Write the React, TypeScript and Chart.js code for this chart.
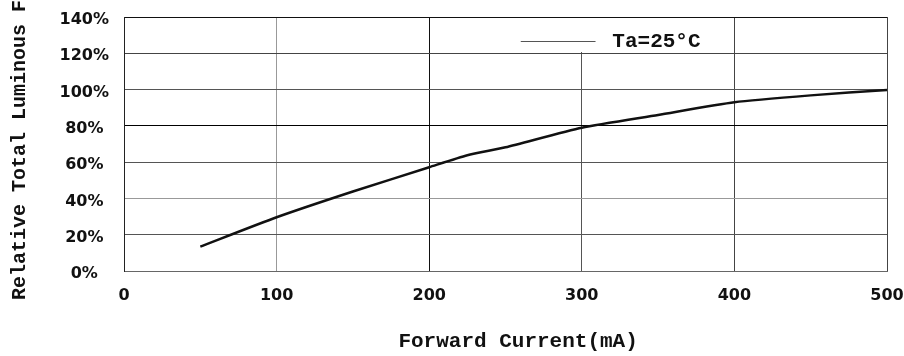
import React, { useEffect, useRef } from "react";
import { Chart, registerables } from "chart.js";

Chart.register(...registerables);

// ---- data ----
const currents = [50, 100, 150, 200, 225, 250, 300, 350, 400, 450, 500];
const flux = [13.4, 29.6, 43.8, 57.2, 63.8, 68.2, 79.0, 86.0, 93.0, 96.8, 99.8];
const xTickValues = [0, 100, 200, 300, 400, 500];
const yTickValues = [0, 20, 40, 60, 80, 100, 120, 140];
const seriesLabel = "Ta=25°C";
const xTitle = "  Forward Current(mA)";
const yTitle = "  Relative Total Luminous Flux";

// grid line shades (per tick)
const xGridColors = ["#222", "#999", "#111", "#555", "#444", "#444"];
const yGridColors = ["#666", "#555", "#999", "#555", "#000", "#555", "#444", "#111"];

const monoFont = "'Liberation Mono', 'Courier New', monospace";
const tickFont = "'DejaVu Sans', sans-serif";

const inlineLegend = {
  id: "inlineLegend",
  beforeDatasetsDraw(chart: any, _args: any, opts: any) {
    const { ctx, scales } = chart;
    const x = scales.x;
    const y = scales.y;
    const ds = chart.data.datasets[0];
    const left = Math.round(x.getPixelForValue(opts.boxFrom));
    const right = Math.round(x.getPixelForValue(opts.boxTo));
    const top = Math.round(y.getPixelForValue(opts.boxTop)) + 1;
    const bottom = Math.round(y.getPixelForValue(opts.boxBottom)) - 1;
    ctx.save();
    ctx.fillStyle = "#fff";
    ctx.fillRect(left, top, right - left, bottom - top);
    const ly = Math.round(y.getPixelForValue(opts.rowAt)) + 0.5;
    ctx.strokeStyle = "#555";
    ctx.lineWidth = 1;
    ctx.beginPath();
    ctx.moveTo(x.getPixelForValue(opts.lineFrom), ly);
    ctx.lineTo(x.getPixelForValue(opts.lineTo), ly);
    ctx.stroke();
    ctx.fillStyle = "#111";
    ctx.font = `bold 21px ${monoFont}`;
    ctx.textBaseline = "middle";
    ctx.textAlign = "left";
    ctx.fillText(ds.label, x.getPixelForValue(opts.textAt), ly);
    ctx.restore();
  },
};

export default function App() {
  const ref = useRef<HTMLCanvasElement | null>(null);

  useEffect(() => {
    if (!ref.current) return;
    const chart = new Chart(ref.current, {
      type: "line",
      data: {
        datasets: [
          {
            label: seriesLabel,
            data: currents.map((c, i) => ({ x: c, y: flux[i] })),
            borderColor: "#111",
            borderWidth: 2.5,
            pointRadius: 0,
            tension: 0.2,
            fill: false,
          },
        ],
      },
      options: {
        responsive: false,
        animation: false,
        layout: { padding: { left: 0, right: 17, top: 17, bottom: 0 } },
        plugins: {
          legend: { display: false },
          tooltip: { enabled: false },
          inlineLegend: {
            boxFrom: 255,
            boxTo: 399,
            boxTop: 140,
            boxBottom: 120,
            rowAt: 127,
            lineFrom: 260,
            lineTo: 309,
            textAt: 320,
          },
        } as any,
        scales: {
          x: {
            type: "linear",
            min: 0,
            max: 500,
            afterBuildTicks: (s: any) => {
              s.ticks = xTickValues.map((v) => ({ value: v }));
            },
            afterFit: (s: any) => {
              s.height = 85;
              s.paddingLeft = 0;
              s.paddingRight = 0;
            },
            grid: {
              drawTicks: false,
              lineWidth: 1,
              color: (c: any) => xGridColors[c.index] ?? "#555",
            },
            border: { display: true, color: "#666", width: 1 },
            ticks: {
              padding: 15,
              maxRotation: 0,
              color: "#111",
              font: { family: tickFont, size: 16, weight: "bold" },
              callback: (v: any) => String(v),
            },
            title: {
              display: true,
              text: xTitle,
              color: "#111",
              font: { family: monoFont, size: 21, weight: "bold" },
              padding: { top: 0, bottom: 2 },
            },
          },
          y: {
            type: "linear",
            min: 0,
            max: 140,
            afterBuildTicks: (s: any) => {
              s.ticks = yTickValues.map((v) => ({ value: v }));
            },
            afterFit: (s: any) => {
              s.width = 124;
              s.paddingTop = 0;
              s.paddingBottom = 0;
            },
            grid: {
              drawTicks: false,
              lineWidth: 1,
              color: (c: any) => yGridColors[c.index] ?? "#555",
            },
            border: { display: true, color: "#222", width: 1 },
            ticks: {
              padding: 15,
              crossAlign: "center",
              labelOffset: 3,
              color: "#111",
              font: { family: tickFont, size: 16, weight: "bold" },
              callback: (v: any) => `${v}%`,
            },
            title: {
              display: true,
              text: yTitle,
              color: "#111",
              font: { family: monoFont, size: 20, weight: "bold" },
              padding: { top: 8, bottom: 0 },
            },
          },
        },
      },
      plugins: [inlineLegend as any],
    });
    return () => chart.destroy();
  }, []);

  return (
    <div style={{ position: "absolute", left: 0, top: 0, width: 904, height: 356, background: "#fff" }}>
      <canvas ref={ref} width={904} height={356} style={{ display: "block" }} />
    </div>
  );
}
